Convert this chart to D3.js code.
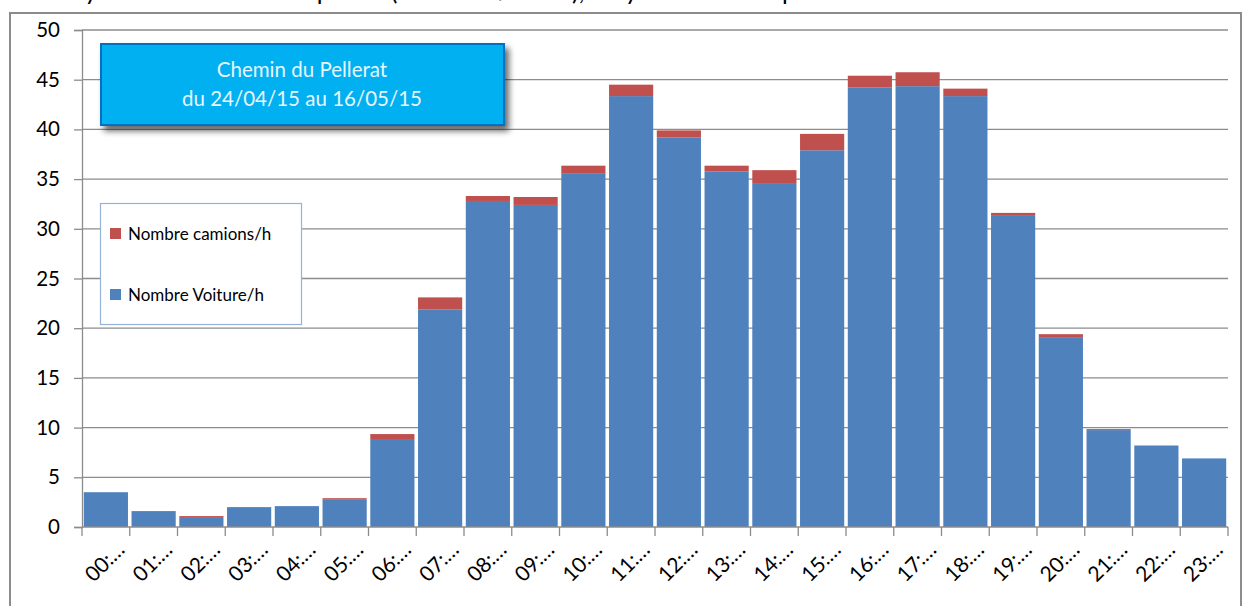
<!DOCTYPE html>
<html><head><meta charset="utf-8">
<script src="https://cdn.jsdelivr.net/npm/d3@7"></script>
<style>
html,body{margin:0;padding:0;background:#fff;}
svg{display:block;font-family:Lato,"Open Sans",sans-serif;}
</style></head>
<body>
<svg id="c" width="1248" height="606"></svg>
<script>
const hours = ["00:…","01:…","02:…","03:…","04:…","05:…","06:…","07:…","08:…","09:…","10:…","11:…","12:…","13:…","14:…","15:…","16:…","17:…","18:…","19:…","20:…","21:…","22:…","23:…"];
const voitures = [3.5,1.6,1.0,2.0,2.1,2.8,8.85,21.9,32.8,32.4,35.6,43.35,39.2,35.75,34.6,37.9,44.2,44.35,43.35,31.3,19.1,9.75,8.2,6.9];
const camions  = [0,0,0.1,0,0,0.1,0.5,1.2,0.5,0.8,0.75,1.15,0.7,0.6,1.3,1.65,1.2,1.4,0.75,0.3,0.3,0.1,0,0];
const yTicks = [0,5,10,15,20,25,30,35,40,45,50];
const seriesNames = ["Nombre camions/h","Nombre Voiture/h"];
const titleLines = ["Chemin du Pellerat","du 24/04/15 au 16/05/15"];
const chartTitle = "Moyenne du nombre de points (véhicules/heure), moyenne horaire par heure";

const svg = d3.select("#c");
const M = {l:82, r:1228, t:30, b:527};

// shadow filter
const defs = svg.append("defs");
const f = defs.append("filter").attr("id","sh").attr("x","-10%").attr("y","-20%").attr("width","130%").attr("height","160%");
f.append("feGaussianBlur").attr("in","SourceAlpha").attr("stdDeviation",3);
f.append("feOffset").attr("dx",4).attr("dy",5).attr("result","o");
f.append("feComponentTransfer").append("feFuncA").attr("type","linear").attr("slope",0.6);
const fm = f.append("feMerge"); fm.append("feMergeNode"); fm.append("feMergeNode").attr("in","SourceGraphic");

// title at very top (clipped in the original picture)
svg.append("text").attr("x",48).attr("y",0).attr("font-size",25).attr("fill","#000").text(chartTitle);

// outer frame
svg.append("rect").attr("x",10).attr("y",13).attr("width",1231).attr("height",620)
  .attr("fill","#fff").attr("stroke","#8c8c8c").attr("stroke-width",2);

const x = d3.scaleBand().domain(hours).range([M.l,M.r]).paddingInner(0.075).paddingOuter(0.0375);
const y = d3.scaleLinear().domain([0,50]).range([M.b,M.t]);

// gridlines
svg.append("g").selectAll("line").data(yTicks.filter(d=>d>0)).join("line")
  .attr("x1",M.l).attr("x2",M.r).attr("y1",d=>y(d)).attr("y2",d=>y(d))
  .attr("stroke","#8c8c8c").attr("stroke-width",1.3);

// y axis
const ya = svg.append("g").attr("transform",`translate(${M.l},0)`)
  .call(d3.axisLeft(y).tickValues(yTicks).tickSize(8).tickPadding(14));
ya.select(".domain").attr("stroke","#8c8c8c").attr("stroke-width",1.3);
ya.selectAll(".tick line").attr("stroke","#8c8c8c").attr("stroke-width",1.3);
ya.selectAll(".tick text").attr("font-size",20.5).attr("fill","#000").attr("font-family","Lato,'Open Sans',sans-serif");

// bars
const stack = hours.map((h,i)=>({h, v:voitures[i], c:camions[i]}));
const g = svg.append("g");
g.selectAll("rect.v").data(stack).join("rect").attr("class","v")
  .attr("x",d=>x(d.h)).attr("width",x.bandwidth())
  .attr("y",d=>y(d.v)).attr("height",d=>y(0)-y(d.v)).attr("fill","#4F81BD");
g.selectAll("rect.c").data(stack.filter(d=>d.c>0)).join("rect").attr("class","c")
  .attr("x",d=>x(d.h)).attr("width",x.bandwidth())
  .attr("y",d=>y(d.v+d.c)).attr("height",d=>y(d.v)-y(d.v+d.c)).attr("fill","#C0504D");

// x axis
const step = (M.r-M.l)/hours.length;
const xa = svg.append("g");
xa.append("line").attr("x1",M.l).attr("x2",M.r).attr("y1",M.b).attr("y2",M.b).attr("stroke","#8c8c8c").attr("stroke-width",1.3);
xa.selectAll("line.t").data(d3.range(hours.length+1)).join("line").attr("class","t")
  .attr("x1",i=>M.l+i*step).attr("x2",i=>M.l+i*step).attr("y1",M.b).attr("y2",M.b+9)
  .attr("stroke","#8c8c8c").attr("stroke-width",1.3);
xa.selectAll("text").data(hours).join("text")
  .attr("transform",d=>`translate(${x(d)+x.bandwidth()/2+20},${551}) rotate(-45)`)
  .attr("text-anchor","end").attr("font-size",21).attr("fill","#000").text(d=>d);

// title box
const tb = svg.append("g");
tb.append("rect").attr("x",101).attr("y",44).attr("width",403).attr("height",81)
  .attr("fill","#00B0F0").attr("stroke","#0070C0").attr("stroke-width",2).attr("filter","url(#sh)");
tb.selectAll("text").data(titleLines).join("text")
  .attr("x",302).attr("y",(d,i)=>77+i*29).attr("text-anchor","middle")
  .attr("font-size",20.5).attr("fill","#E6F6FF").text(d=>d);

// legend
const lg = svg.append("g");
lg.append("rect").attr("x",100.5).attr("y",203.5).attr("width",201).attr("height",121)
  .attr("fill","#fff").attr("stroke","#95B3D7").attr("stroke-width",1.2);
const legendColors = ["#C0504D","#4F81BD"];
const li = lg.selectAll("g").data(seriesNames).join("g")
  .attr("transform",(d,i)=>`translate(110,${234+i*61})`);
li.append("rect").attr("x",0).attr("y",-6).attr("width",11).attr("height",11).attr("fill",(d,i)=>legendColors[i]);
li.append("text").attr("x",18).attr("y",6).attr("font-size",17).attr("fill","#000").text(d=>d);
</script>
</body></html>
